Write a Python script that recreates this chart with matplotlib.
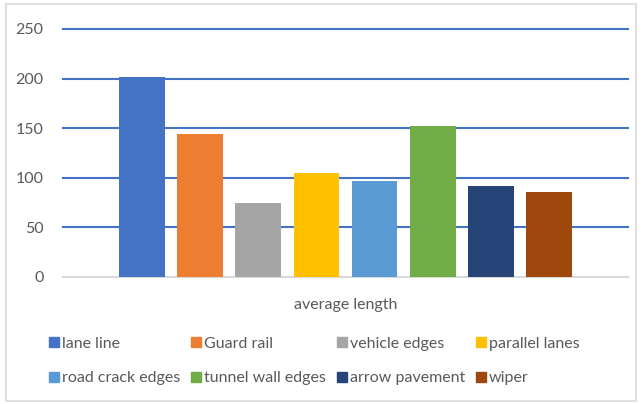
import matplotlib.pyplot as plt
from matplotlib.patches import Rectangle
from matplotlib.lines import Line2D

# data
category = "average length"
series_names = ["lane line", "Guard rail", "vehicle edges", "parallel lanes",
                "road crack edges", "tunnel wall edges", "arrow pavement", "wiper"]
values = [202, 144, 75, 105, 97, 152, 92, 86]
colors = ["#4472C4", "#ED7D31", "#A5A5A5", "#FFC000",
          "#5B9BD5", "#70AD47", "#264478", "#9E480E"]
y_ticks = [0, 50, 100, 150, 200, 250]

plt.rcParams['font.family'] = ['Lato', 'DejaVu Sans']

fig = plt.figure(figsize=(6.43, 4.04), dpi=100)
fig.patches.append(Rectangle((6 / 643, 3 / 404), 630 / 643, 397 / 404,
                             transform=fig.transFigure, fill=False,
                             edgecolor="#D9D9D9", linewidth=1.2))

ax = fig.add_axes([63 / 643, 1 - 277 / 404, 565 / 643, 248 / 404])

step = 0.103
bar_w = 0.081
for i, (name, v, c) in enumerate(zip(series_names, values, colors)):
    ax.bar((i - 3.5) * step, v, width=bar_w, color=c, label=name, zorder=3)

ax.set_xlim(-0.5, 0.5)
ax.set_ylim(0, 250)
ax.set_yticks(y_ticks)
ax.set_yticklabels([str(t) for t in y_ticks], color="#595959", fontsize=11.5)
ax.tick_params(axis='y', length=0, pad=14)
ax.set_xticks([0])
ax.set_xticklabels([category], color="#595959", fontsize=11.5)
ax.tick_params(axis='x', length=0, pad=15)

for t in y_ticks[1:]:
    ax.axhline(t, color="#4472C4", linewidth=1.5, zorder=1, clip_on=False)
for s in ["top", "right", "left"]:
    ax.spines[s].set_visible(False)
ax.spines["bottom"].set_color("#D9D9D9")
ax.spines["bottom"].set_linewidth(1.5)

# legend fills column by column, so reorder to read row by row
ncol = 4
order = [r * ncol + c for c in range(ncol) for r in range(2)]
handles = [Line2D([], [], marker='s', linestyle='none', markersize=7,
                  markerfacecolor=colors[k], markeredgecolor=colors[k]) for k in order]
labels = [series_names[k] for k in order]
fig.legend(handles, labels, ncol=ncol, loc='center',
           bbox_to_anchor=(0.5 - 8 / 643, 1 - 361 / 404), frameon=False,
           fontsize=11.5, labelcolor="#595959", handletextpad=0.1,
           columnspacing=0.6, handlelength=0.8, labelspacing=1.25)

fig.savefig("out.png", dpi=100)
